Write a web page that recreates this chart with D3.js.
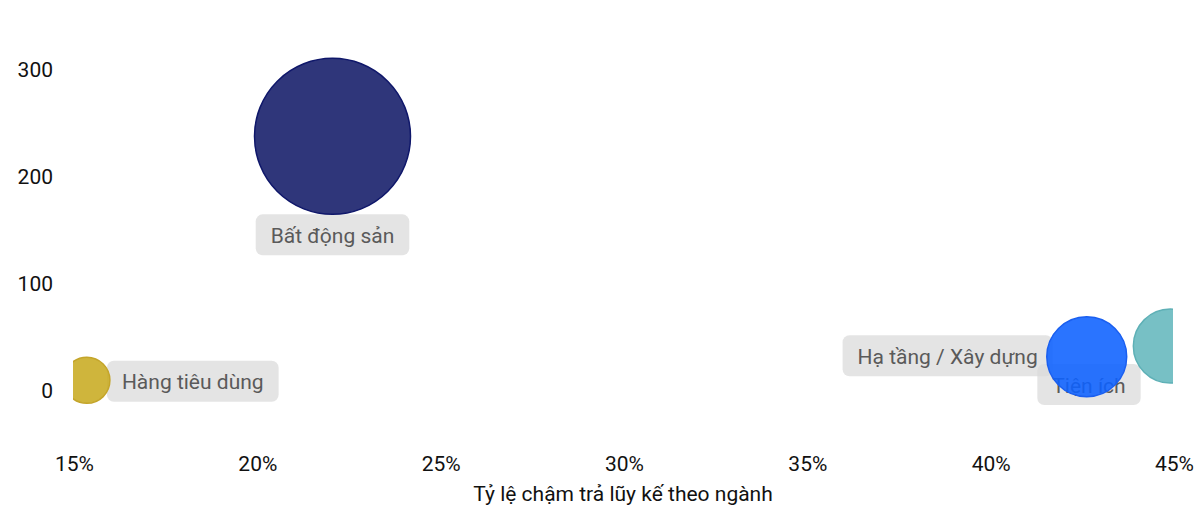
<!DOCTYPE html>
<html>
<head>
<meta charset="utf-8">
<script src="https://cdn.jsdelivr.net/npm/d3@7/dist/d3.min.js"></script>
<style>
  html, body { margin: 0; padding: 0; background: #ffffff; }
  svg { display: block; font-family: Roboto, "Noto Sans", sans-serif; }
</style>
</head>
<body>
<svg id="chart" width="1197" height="509"></svg>
<script>
// Sector bubbles: cumulative late-payment rate (x), amount (y), bubble size
const sectors   = ["Bất động sản", "Hàng tiêu dùng", "Hạ tầng / Xây dựng", "Tiện ích"];
const lateRate  = [0.2205, 0.1535, 0.4262, 0.449];
const amount    = [238, 10, 32, 42];
const sizeValue = [240, 21, 63, 54];
const fills     = ["#121a68", "#c8ab21", "#0d61ff", "#64b7bd"];
const strokes   = ["#0f176a", "#c4a52a", "#1a5ff0", "#5eb0b6"];
const labelSide = ["below", "right", "left", "belowLeft"];

const xTicks = [0.15, 0.20, 0.25, 0.30, 0.35, 0.40, 0.45];
const yTicks = [0, 100, 200, 300];
const xTitle = "Tỷ lệ chậm trả lũy kế theo ngành";

const svg = d3.select("#chart");
const plot = { left: 74, right: 1174, top: 16.5, bottom: 444.5 };

const x = d3.scaleLinear().domain([0.15, 0.45]).range([plot.left, plot.right]);
const y = d3.scaleLinear().domain([-50, 350]).range([plot.bottom, plot.top]);
const r = d3.scaleSqrt().domain([0, 240]).range([0, 78]);

// clip bubbles to the plotting area
svg.append("defs").append("clipPath").attr("id", "plotClip")
  .append("rect")
  .attr("x", plot.left - 1).attr("y", 0)
  .attr("width", plot.right - plot.left).attr("height", plot.bottom + 20);

// y axis labels (no domain line, no ticks)
const yAxis = svg.append("g")
  .attr("transform", `translate(${plot.left - 21},0)`)
  .call(d3.axisLeft(y).tickValues(yTicks).tickSize(0).tickPadding(0));
yAxis.select(".domain").remove();
yAxis.selectAll("text")
  .attr("font-size", 21).attr("fill", "#111").attr("font-family", "Roboto");

// x axis labels
const xAxis = svg.append("g")
  .attr("transform", `translate(0,${plot.bottom + 12})`)
  .call(d3.axisBottom(x).tickValues(xTicks).tickFormat(d3.format(".0%")).tickSize(0).tickPadding(0));
xAxis.select(".domain").remove();
xAxis.selectAll("text")
  .attr("font-size", 21).attr("fill", "#111").attr("font-family", "Roboto");

svg.append("text")
  .attr("x", (plot.left + plot.right) / 2 - 1)
  .attr("y", 501)
  .attr("text-anchor", "middle")
  .attr("font-size", 21)
  .attr("fill", "#111")
  .text(xTitle);

const data = sectors.map((name, i) => ({
  name, rate: lateRate[i], amount: amount[i], size: sizeValue[i],
  fill: fills[i], stroke: strokes[i], side: labelSide[i]
}));

// labels with rounded grey boxes (drawn beneath the bubbles)
const labelG = svg.append("g");
const padX = 15, boxH = 41;
data.forEach(d => {
  const cx = x(d.rate), cy = y(d.amount), rr = r(d.size);
  const g = labelG.append("g");
  const t = g.append("text")
    .attr("font-size", 21)
    .attr("fill", "#5a5a5a")
    .attr("dominant-baseline", "central")
    .text(d.name);
  const w = t.node().getComputedTextLength() + padX * 2;
  let bx, by;
  if (d.side === "below") { bx = cx - w / 2; by = cy + rr; }
  else if (d.side === "right") { bx = cx + rr - 3; by = cy - boxH / 2 + 1; }
  else if (d.side === "left") { bx = cx - rr - w + 6; by = cy - boxH / 2 - 1; }
  else { bx = cx - 133; by = cy + 18; }
  g.insert("rect", "text")
    .attr("x", bx).attr("y", by)
    .attr("width", w).attr("height", boxH)
    .attr("rx", 7)
    .attr("fill", "rgb(218,218,218)")
    .attr("fill-opacity", 0.72);
  t.attr("x", bx + padX).attr("y", by + boxH / 2 + 1);
});

// bubbles
svg.append("g").attr("clip-path", "url(#plotClip)")
  .selectAll("circle")
  .data(data)
  .join("circle")
  .attr("cx", d => x(d.rate))
  .attr("cy", d => y(d.amount))
  .attr("r", d => r(d.size))
  .attr("fill", d => d.fill)
  .attr("fill-opacity", 0.88)
  .attr("stroke", d => d.stroke)
  .attr("stroke-width", 1.5);
</script>
</body>
</html>
